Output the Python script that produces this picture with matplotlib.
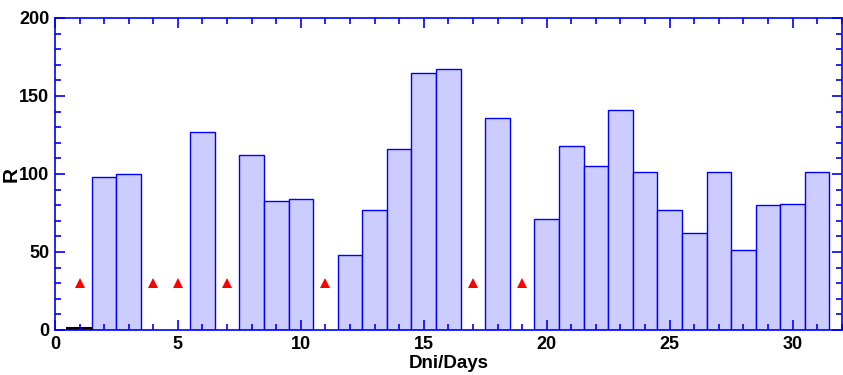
import matplotlib
matplotlib.use("Agg")
from matplotlib import pyplot as plt
from matplotlib.ticker import MultipleLocator

days = list(range(1, 32))
r_values = [1, 98, 100, 0, 0, 127, 0, 112, 83, 84, 0, 48, 77, 116, 165, 167,
            0, 136, 0, 71, 118, 105, 141, 101, 77, 62, 101, 51, 80, 81, 101]
missing_days = [1, 4, 5, 7, 11, 17, 19]
missing_level = [30] * len(missing_days)

plt.rcParams['font.family'] = ['Liberation Sans', 'DejaVu Sans']
plt.rcParams['font.weight'] = 'bold'

fig = plt.figure(figsize=(8.43, 3.75), dpi=100)
ax = fig.add_axes([0.0652, 0.12, 0.9333, 0.832])

bar_days = [d for d, v in zip(days, r_values) if v > 1]
bar_vals = [v for v in r_values if v > 1]
ax.bar(bar_days, bar_vals, width=1.0, color='#ccccff', edgecolor='blue', linewidth=1)
# day 1 has a near-zero value, drawn as a black stub
ax.bar([d for d, v in zip(days, r_values) if v == 1], [1], width=1.0,
       color='black', edgecolor='black', linewidth=1.5)
ax.plot(missing_days, missing_level, linestyle='none', marker='^', color='red',
        markersize=7.5, markeredgewidth=0)

ax.set_xlim(0, 32)
ax.set_ylim(0, 200)
ax.xaxis.set_major_locator(MultipleLocator(5))
ax.xaxis.set_minor_locator(MultipleLocator(1))
ax.yaxis.set_major_locator(MultipleLocator(50))
ax.yaxis.set_minor_locator(MultipleLocator(10))
ax.tick_params(which='both', direction='in', top=True, right=True, color='blue',
               labelsize=13, width=1.2)
ax.tick_params(which='major', length=7, pad=4)
ax.tick_params(which='minor', length=4)
for s in ax.spines.values():
    s.set_color('blue')
    s.set_linewidth(1.2)
for lab in ax.get_xticklabels() + ax.get_yticklabels():
    lab.set_fontweight('bold')

ax.set_xlabel('Dni/Days', fontsize=13.5, fontweight='bold', labelpad=2)
ax.set_ylabel('R', fontsize=15, fontweight='bold', labelpad=-1)

fig.savefig('out.png', dpi=100)
